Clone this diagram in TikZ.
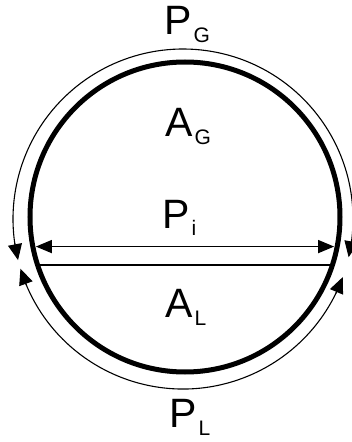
\documentclass[tikz,border=0pt]{standalone}
\usepackage{fontspec}
\setmainfont{Liberation Sans}
\usetikzlibrary{arrows.meta}
\tikzset{
  cellbody/.style={circle, draw, line width=5pt, minimum size=310pt,
                   inner sep=0pt, outer sep=0pt},
  chord/.style={line width=2.4pt},
  spanarrow/.style={arrows={Triangle[length=16pt, width=13pt]-Triangle[length=16pt, width=13pt]},
                    line width=1.4pt, shorten <=3pt, shorten >=3pt},
  perimarc/.style={line width=1.1pt},
  perimtip/.style={arrows={-Triangle[length=16pt, width=14pt]}, line width=1.1pt}
}
\tikzset{
  lbl/.style={inner sep=0pt, anchor=base west, font=\fontsize{41}{41}\selectfont}
}
\newcommand{\lowsub}[1]{\kern2pt\raisebox{-8pt}{\fontsize{21}{21}\selectfont #1}}

\begin{document}
\begin{tikzpicture}[x=1pt, y=1pt]
  \useasboundingbox (-185,-225) rectangle (167,217);

  % Circle and dividing chord
  \node[cellbody] (cell) at (0,0) {};
  \draw[chord] (cell.198.8) -- (cell.-18.8);
  \draw[spanarrow] (cell.191.5) -- (cell.-11.5);

  % Perimeter arcs
  \coordinate (ctr) at (-2,-2);
  \draw[perimarc] ([shift={(-8:170)}]ctr) arc[start angle=-8, end angle=189, radius=170];
  \draw[perimarc] ([shift={(202:170)}]ctr) arc[start angle=202, end angle=335, radius=170];
  % tips at the arc ends
  \draw[perimtip] ([shift={(-7:170)}]ctr) -- ([shift={(-13:170)}]ctr);
  \draw[perimtip] ([shift={(188:170)}]ctr) -- ([shift={(194:170)}]ctr);
  \draw[perimtip] ([shift={(203:170)}]ctr) -- ([shift={(197:170)}]ctr);
  \draw[perimtip] ([shift={(334:170)}]ctr) -- ([shift={(340:170)}]ctr);

  % Labels
  \node[lbl] (pg) at (-21,182) {P\lowsub{G}};
  \node[lbl] (ag) at (-20,80) {A\lowsub{G}};
  \node[lbl] (pi) at (-23,-11) {P\lowsub{i}};
  \node[lbl] (al) at (-20,-100) {A\lowsub{L}};
  \node[lbl] (pl) at (-16,-210) {P\lowsub{L}};
\end{tikzpicture}
\end{document}
